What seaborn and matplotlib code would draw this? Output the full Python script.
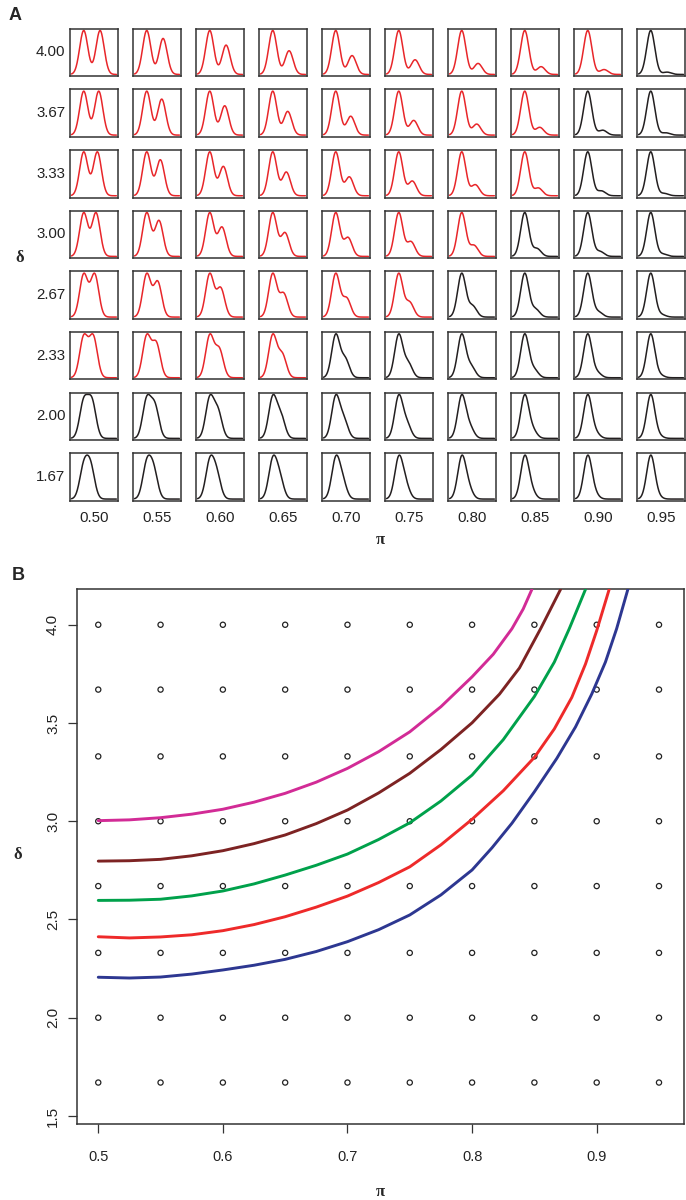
import numpy as np
import pandas as pd
import matplotlib
matplotlib.use("Agg")
import matplotlib.pyplot as plt
import seaborn as sns
from matplotlib import font_manager

# ---------------------------------------------------------------- data
pi_values = [0.50, 0.55, 0.60, 0.65, 0.70, 0.75, 0.80, 0.85, 0.90, 0.95]
pi_labels = ["0.50", "0.55", "0.60", "0.65", "0.70", "0.75", "0.80", "0.85", "0.90", "0.95"]
delta_values = [4.00, 3.67, 3.33, 3.00, 2.67, 2.33, 2.00, 1.67]   # rows, top to bottom
delta_labels = ["4.00", "3.67", "3.33", "3.00", "2.67", "2.33", "2.00", "1.67"]

# 1 = bimodal (red), 0 = unimodal (black); rows follow delta_values
bimodal = [
    [1, 1, 1, 1, 1, 1, 1, 1, 1, 0],
    [1, 1, 1, 1, 1, 1, 1, 1, 0, 0],
    [1, 1, 1, 1, 1, 1, 1, 1, 0, 0],
    [1, 1, 1, 1, 1, 1, 1, 0, 0, 0],
    [1, 1, 1, 1, 1, 1, 0, 0, 0, 0],
    [1, 1, 1, 1, 0, 0, 0, 0, 0, 0],
    [0, 0, 0, 0, 0, 0, 0, 0, 0, 0],
    [0, 0, 0, 0, 0, 0, 0, 0, 0, 0],
]

# boundary curves in the (pi, delta) plane
pink_pi = [0.500, 0.525, 0.550, 0.575, 0.600, 0.625, 0.650, 0.675, 0.700, 0.725,
           0.750, 0.775, 0.800, 0.817, 0.832, 0.841, 0.848]
pink_delta = [3.003, 3.007, 3.018, 3.036, 3.061, 3.097, 3.142, 3.199, 3.269, 3.354,
              3.455, 3.583, 3.735, 3.850, 3.980, 4.080, 4.180]
brown_pi = [0.500, 0.525, 0.550, 0.575, 0.600, 0.625, 0.650, 0.675, 0.700, 0.725,
            0.750, 0.775, 0.800, 0.822, 0.838, 0.855, 0.863, 0.871]
brown_delta = [2.797, 2.799, 2.806, 2.824, 2.850, 2.886, 2.930, 2.988, 3.057, 3.144,
               3.244, 3.365, 3.501, 3.647, 3.780, 3.980, 4.080, 4.180]
green_pi = [0.500, 0.525, 0.550, 0.575, 0.600, 0.625, 0.650, 0.675, 0.700, 0.725,
            0.750, 0.775, 0.800, 0.825, 0.850, 0.866, 0.878, 0.891]
green_delta = [2.597, 2.598, 2.603, 2.620, 2.645, 2.681, 2.726, 2.776, 2.833, 2.907,
               2.992, 3.103, 3.235, 3.415, 3.635, 3.810, 3.980, 4.180]
red_pi = [0.500, 0.525, 0.550, 0.575, 0.600, 0.625, 0.650, 0.675, 0.700, 0.725,
          0.750, 0.775, 0.800, 0.825, 0.850, 0.866, 0.880, 0.891, 0.900, 0.910]
red_delta = [2.412, 2.406, 2.411, 2.422, 2.443, 2.474, 2.514, 2.563, 2.619, 2.688,
             2.768, 2.880, 3.010, 3.155, 3.325, 3.470, 3.630, 3.800, 3.970, 4.180]
blue_pi = [0.500, 0.525, 0.550, 0.575, 0.600, 0.625, 0.650, 0.675, 0.700, 0.725,
           0.750, 0.775, 0.800, 0.816, 0.832, 0.850, 0.868, 0.883, 0.896, 0.907,
           0.916, 0.925]
blue_delta = [2.206, 2.202, 2.207, 2.222, 2.243, 2.267, 2.297, 2.337, 2.387, 2.448,
              2.523, 2.625, 2.752, 2.865, 2.990, 3.150, 3.320, 3.480, 3.647, 3.810,
              3.980, 4.180]

curve_colors = {"pink": "#D22B96", "brown": "#7D2323", "green": "#00A14B",
                "red": "#EE2A2A", "blue": "#2D3791"}

# ---------------------------------------------------------------- style
sns.set_style("white")
installed = {f.name for f in font_manager.fontManager.ttflist}
SANS = "Liberation Sans" if "Liberation Sans" in installed else "DejaVu Sans"
NARROW = "Liberation Sans Narrow" if "Liberation Sans Narrow" in installed else SANS
SERIF = "Liberation Serif" if "Liberation Serif" in installed else "DejaVu Serif"
plt.rcParams["font.family"] = [SANS, "DejaVu Sans"]

W, H = 686, 1200
fig = plt.figure(figsize=(W / 100, H / 100), dpi=100)


def fx(px):
    return px / W


def fy(py):
    return 1 - py / H


FRAME = "#333333"
RED = "#E8262A"
BLACK = "#231F20"

# ---------------------------------------------------------------- panel A
x_grid = np.linspace(-3, 8, 300)


def mixture_density(x, p, d):
    norm = 1 / np.sqrt(2 * np.pi)
    return p * norm * np.exp(-0.5 * x ** 2) + (1 - p) * norm * np.exp(-0.5 * (x - d) ** 2)


col_left0, col_pitch, box_w = 69.7, 63.0, 48.5
row_top0, row_pitch, box_h = 28.7, 60.66, 47.5

for r, d in enumerate(delta_values):
    for c, p in enumerate(pi_values):
        left = col_left0 + c * col_pitch
        top = row_top0 + r * row_pitch
        ax = fig.add_axes([fx(left), fy(top + box_h), box_w / W, box_h / H])
        dens = pd.DataFrame({"x": x_grid, "density": mixture_density(x_grid, p, d)})
        sns.lineplot(data=dens, x="x", y="density", ax=ax, estimator=None, sort=False,
                     color=RED if bimodal[r][c] else BLACK, linewidth=1.1)
        ymax = dens["density"].max()
        ax.set_xlim(-3.44, 8.44)
        ax.set_ylim(-0.04 * ymax, 1.04 * ymax)
        ax.set_xticks([])
        ax.set_yticks([])
        ax.set_xlabel("")
        ax.set_ylabel("")
        for s in ax.spines.values():
            s.set_visible(True)
            s.set_color(FRAME)
            s.set_linewidth(1.1)

for r, lab in enumerate(delta_labels):
    yc = row_top0 + r * row_pitch + box_h / 2
    fig.text(fx(65.5), fy(yc), lab, ha="right", va="center", fontsize=10.8, color="#222222")
for c, lab in enumerate(pi_labels):
    xc = col_left0 + c * col_pitch + box_w / 2
    fig.text(fx(xc), fy(518), lab, ha="center", va="center", fontsize=10.8, color="#222222")

fig.text(fx(20), fy(258), "δ", ha="center", va="center", fontsize=12,
         fontweight="bold", family=[SERIF, "DejaVu Serif"])
fig.text(fx(380), fy(540), "π", ha="center", va="center", fontsize=12,
         fontweight="bold", family=[SERIF, "DejaVu Serif"])
fig.text(fx(15), fy(16), "A", ha="center", va="center", fontsize=13, fontweight="bold")

# ---------------------------------------------------------------- panel B
axB = fig.add_axes([fx(76.7), fy(1124), (684.3 - 76.7) / W, (1124 - 589) / H])

grid = pd.DataFrame([(p, d) for d in delta_values for p in pi_values], columns=["pi", "delta"])
sns.scatterplot(data=grid, x="pi", y="delta", ax=axB, s=14, facecolor="none",
                edgecolor="#222222", linewidth=0.9, marker="o", zorder=2)

curves = [("pink", pink_pi, pink_delta), ("brown", brown_pi, brown_delta),
          ("green", green_pi, green_delta), ("red", red_pi, red_delta),
          ("blue", blue_pi, blue_delta)]
for name, xs, ys in curves:
    cdf = pd.DataFrame({"pi": xs, "delta": ys})
    sns.lineplot(data=cdf, x="pi", y="delta", ax=axB, estimator=None, sort=False,
                 color=curve_colors[name], linewidth=2.1, zorder=3)

axB.set_xlim(0.4827, 0.9703)
axB.set_ylim(1.459, 4.182)
axB.set_xticks([0.5, 0.6, 0.7, 0.8, 0.9])
axB.set_xticklabels(["0.5", "0.6", "0.7", "0.8", "0.9"], fontsize=10.5, color="#222222")
axB.set_yticks([1.5, 2.0, 2.5, 3.0, 3.5, 4.0])
axB.set_yticklabels(["1.5", "2.0", "2.5", "3.0", "3.5", "4.0"], fontsize=11,
                    rotation=90, va="center", color="#222222", family=[NARROW, SANS])
axB.tick_params(axis="x", direction="out", length=6.5, width=0.9, color=FRAME, pad=12.5,
                bottom=True)
axB.tick_params(axis="y", direction="out", length=6.5, width=0.9, color=FRAME, pad=5.5,
                left=True)
axB.set_xlabel("")
axB.set_ylabel("")
for s in axB.spines.values():
    s.set_visible(True)
    s.set_color(FRAME)
    s.set_linewidth(1.1)

fig.text(fx(18), fy(855), "δ", ha="center", va="center", fontsize=12,
         fontweight="bold", family=[SERIF, "DejaVu Serif"])
fig.text(fx(380), fy(1192), "π", ha="center", va="center", fontsize=12,
         fontweight="bold", family=[SERIF, "DejaVu Serif"])
fig.text(fx(18), fy(575), "B", ha="center", va="center", fontsize=13, fontweight="bold")

fig.savefig("out.png", dpi=100, facecolor="white")
